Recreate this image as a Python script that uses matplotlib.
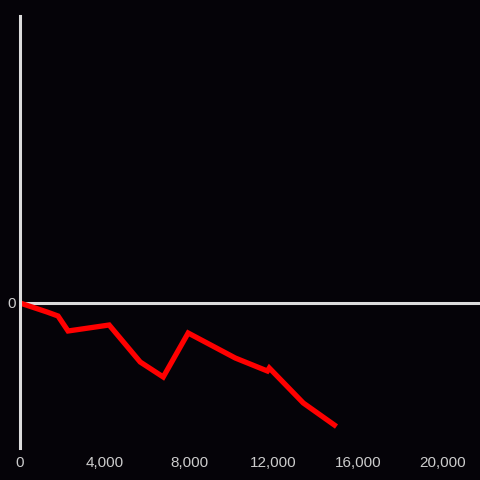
import matplotlib
matplotlib.use("Agg")
import matplotlib.pyplot as plt

plt.rcParams["font.family"] = ["Liberation Sans", "DejaVu Sans"]

# series
x_vals = [0, 1280, 1800, 2275, 4220, 5690, 6780, 7960, 10190, 11710, 11800, 13410, 14880]
y_vals = [0, -9, -13, -28, -22, -59, -74, -30, -55, -68, -65, -100, -122]

x_ticks = [0, 4000, 8000, 12000, 16000, 20000]
x_labels = ["0", "4,000", "8,000", "12,000", "16,000", "20,000"]
y_ticks = [0]
y_labels = ["0"]

BG = "#050308"
AXIS = "#dcdcdc"
TEXT = "#cccccc"

fig = plt.figure(figsize=(4.8, 4.8), dpi=100, facecolor=BG)
ax = fig.add_axes([20 / 480, 32 / 480, 460 / 480, 432 / 480], facecolor=BG)

ax.axhline(0, color=AXIS, linewidth=2.2, zorder=1)
ax.plot(x_vals, y_vals, color="#ff0000", linewidth=3.8, solid_joinstyle="miter",
        zorder=2)

ax.set_xlim(0, 21775)
ax.set_ylim(-145, 287)

for side in ("top", "right", "bottom"):
    ax.spines[side].set_visible(False)
ax.spines["left"].set_color(AXIS)
ax.spines["left"].set_linewidth(2.2)

ax.set_xticks(x_ticks)
ax.set_xticklabels(x_labels)
ax.set_yticks(y_ticks)
ax.set_yticklabels(y_labels)
ax.tick_params(length=0, colors=TEXT, labelsize=11)
ax.tick_params(axis="x", pad=5.5)
ax.tick_params(axis="y", pad=3)

fig.savefig("out.png", dpi=100, facecolor=BG)
